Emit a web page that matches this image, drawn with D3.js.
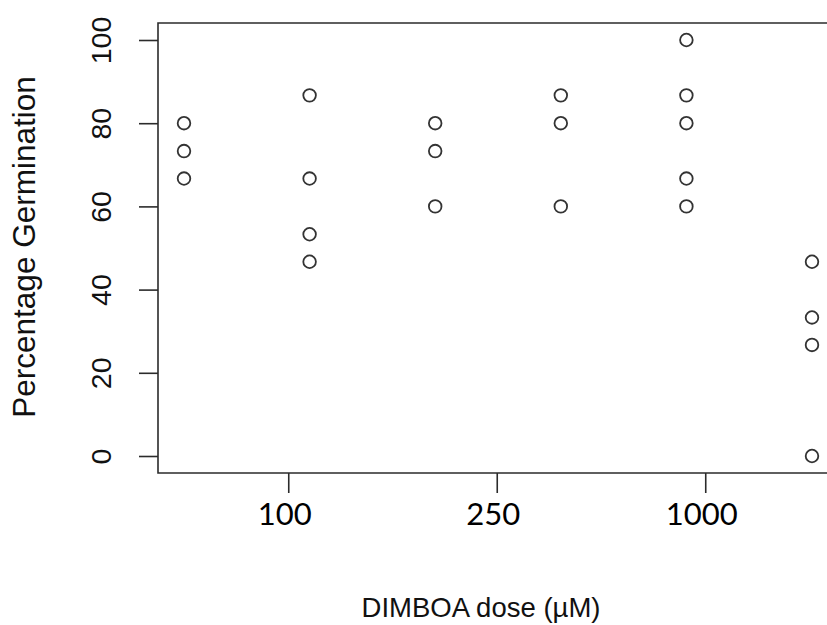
<!DOCTYPE html>
<html>
<head>
<meta charset="utf-8">
<script src="https://cdn.jsdelivr.net/npm/d3@7"></script>
<style>
  body { margin: 0; background: #fff; }
  svg { display: block; }
</style>
</head>
<body>
<div id="chart"></div>
<script>
// Germination vs DIMBOA dose, one column of points per dose group

var groupIndex = [1, 2, 3, 4, 5, 6];
var germination = [
    [80, 73.3, 66.7],
    [86.7, 66.7, 53.3, 46.7],
    [80, 73.3, 60],
    [86.7, 80, 60],
    [100, 86.7, 80, 66.7, 60],
    [46.7, 33.3, 26.7, 0]
];
var yTicks = [0, 20, 40, 60, 80, 100];
var xTickPos = [1.83, 3.49, 5.15];
var xTickLabels = ["100", "250", "1000"];

var W = 827, H = 625;
var box = { left: 158, top: 23, bottom: 473 };

var svg = d3.select("#chart")
    .append("svg")
    .attr("width", W)
    .attr("height", H);

var x = d3.scaleLinear()
    .domain([1, 6])
    .range([184, 812]);

var y = d3.scaleLinear()
    .domain([0, 100])
    .range([456, 40]);

// plot frame (right side runs off the picture)
svg.append("path")
    .attr("d", "M" + (W + 5) + "," + box.top + "H" + box.left + "V" + box.bottom + "H" + (W + 5))
    .attr("fill", "none")
    .attr("stroke", "#2b2b2b")
    .attr("stroke-width", 1.6);

// y axis
var yAxis = svg.append("g")
    .attr("transform", "translate(" + box.left + ",0)")
    .call(d3.axisLeft(y).tickValues(yTicks).tickSize(19).tickSizeOuter(0).tickFormat(d3.format("d")));
yAxis.select(".domain").remove();
yAxis.selectAll(".tick line").attr("stroke", "#2b2b2b").attr("stroke-width", 1.6);
yAxis.selectAll(".tick text")
    .attr("x", 0).attr("y", 0).attr("dy", 0)
    .attr("text-anchor", "middle")
    .attr("transform", "translate(-47,0) rotate(-90)")
    .style("font-family", "'Liberation Sans', Arial, sans-serif")
    .style("font-size", "28.5px")
    .attr("fill", "#111");

// x axis ticks
var xAxis = svg.append("g")
    .attr("transform", "translate(0," + box.bottom + ")")
    .call(d3.axisBottom(x).tickValues(xTickPos).tickSize(20).tickSizeOuter(0).tickFormat((d, i) => xTickLabels[i]));
xAxis.select(".domain").remove();
xAxis.selectAll(".tick line").attr("stroke", "#2b2b2b").attr("stroke-width", 1.6);
xAxis.selectAll(".tick text")
    .attr("y", 52).attr("dy", 0).attr("dx", -4)
    .style("font-family", "Lato, 'Open Sans', sans-serif")
    .style("font-size", "31px")
    .attr("fill", "#000");

// points
var pts = [];
groupIndex.forEach((g, i) => germination[i].forEach(v => pts.push({ g: g, v: v })));
svg.selectAll("circle.pt")
    .data(pts)
    .join("circle")
    .attr("class", "pt")
    .attr("cx", d => x(d.g))
    .attr("cy", d => y(d.v))
    .attr("r", 6.3)
    .attr("fill", "none")
    .attr("stroke", "#333")
    .attr("stroke-width", 1.8);

// axis titles
svg.append("text")
    .attr("text-anchor", "middle")
    .attr("transform", "translate(35,247) rotate(-90)")
    .style("font-family", "'Liberation Sans', Arial, sans-serif")
    .style("font-size", "31.5px")
    .attr("fill", "#111")
    .text("Percentage Germination");

svg.append("text")
    .attr("text-anchor", "middle")
    .attr("x", 481)
    .attr("y", 617)
    .style("font-family", "'Liberation Sans', Arial, sans-serif")
    .style("font-size", "27.5px")
    .attr("fill", "#111")
    .text("DIMBOA dose (µM)");
</script>
</body>
</html>
